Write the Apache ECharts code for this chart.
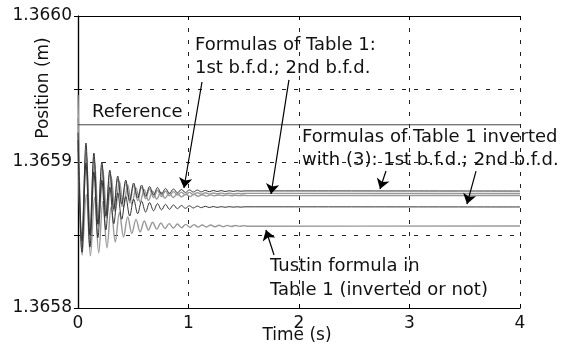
<!DOCTYPE html>
<html>
<head>
<meta charset="utf-8">
<script src="https://cdn.jsdelivr.net/npm/echarts@6/dist/echarts.min.js"></script>
<style>
  html, body { margin: 0; padding: 0; background: #fff; }
  #main { width: 573px; height: 347px; }
</style>
</head>
<body>
<div id="main"></div>
<script>
// time of each read-off extremum (s)
const timesA = [0, 0.036, 0.072, 0.108, 0.144, 0.18, 0.216, 0.252, 0.288, 0.324, 0.36, 0.396, 0.432, 0.468, 0.504, 0.54, 0.576, 0.612, 0.648, 0.684, 0.72, 0.756, 0.792, 0.828, 0.864, 0.9, 0.936, 0.972, 1.008, 1.044, 1.08, 1.116, 1.152, 1.188, 1.224, 1.26, 1.296, 1.332, 1.368, 1.404, 1.44, 1.476, 1.512, 4]
const timesB = [0, 0.0375, 0.075, 0.1125, 0.15, 0.1875, 0.225, 0.2625, 0.3, 0.3375, 0.375, 0.4125, 0.45, 0.4875, 0.525, 0.5625, 0.6, 0.6375, 0.675, 0.7125, 0.75, 0.7875, 0.825, 0.8625, 0.9, 0.9375, 0.975, 1.0125, 1.05, 1.0875, 1.125, 1.1625, 1.2, 1.2375, 1.275, 1.3125, 1.35, 1.3875, 1.425, 1.4625, 1.5, 1.5375, 4]

// positions (m)
const invFirst = [1.3659201, 1.3658459, 1.3659130, 1.3658500, 1.3659061, 1.3658575, 1.3659000, 1.3658630, 1.3658945, 1.3658678, 1.3658904, 1.3658712, 1.3658876, 1.3658736, 1.3658856, 1.3658753, 1.3658842, 1.3658765, 1.3658832, 1.3658774, 1.3658825, 1.3658780, 1.3658819, 1.3658785, 1.3658815, 1.3658789, 1.3658812, 1.3658791, 1.3658809, 1.3658794, 1.3658808, 1.3658795, 1.3658806, 1.3658796, 1.3658805, 1.3658798, 1.3658804, 1.3658798, 1.3658803, 1.3658799, 1.3658803, 1.3658800, 1.3658802, 1.3658801]
const tabFirst = [1.3659459, 1.3658424, 1.3659084, 1.3658494, 1.3659034, 1.3658569, 1.3658974, 1.3658619, 1.3658924, 1.3658664, 1.3658886, 1.3658696, 1.3658859, 1.3658719, 1.3658840, 1.3658736, 1.3658826, 1.3658748, 1.3658815, 1.3658757, 1.3658807, 1.3658764, 1.3658801, 1.3658769, 1.3658797, 1.3658773, 1.3658794, 1.3658775, 1.3658792, 1.3658777, 1.3658790, 1.3658779, 1.3658789, 1.3658780, 1.3658788, 1.3658781, 1.3658787, 1.3658782, 1.3658786, 1.3658782, 1.3658785, 1.3658783, 1.3658785, 1.3658784]
const tabSecond = [1.3659300, 1.3658441, 1.3659061, 1.3658501, 1.3659006, 1.3658566, 1.3658949, 1.3658616, 1.3658903, 1.3658658, 1.3658868, 1.3658688, 1.3658842, 1.3658710, 1.3658823, 1.3658726, 1.3658810, 1.3658737, 1.3658800, 1.3658746, 1.3658793, 1.3658752, 1.3658787, 1.3658757, 1.3658783, 1.3658761, 1.3658780, 1.3658763, 1.3658778, 1.3658765, 1.3658776, 1.3658766, 1.3658775, 1.3658768, 1.3658774, 1.3658769, 1.3658773, 1.3658769, 1.3658772, 1.3658770, 1.3658772, 1.3658770, 1.3658771]
const invSecond = [1.3659150, 1.3658382, 1.3658992, 1.3658417, 1.3658932, 1.3658482, 1.3658874, 1.3658534, 1.3658826, 1.3658577, 1.3658789, 1.3658608, 1.3658764, 1.3658630, 1.3658745, 1.3658646, 1.3658732, 1.3658657, 1.3658722, 1.3658666, 1.3658715, 1.3658672, 1.3658710, 1.3658676, 1.3658706, 1.3658680, 1.3658702, 1.3658683, 1.3658700, 1.3658685, 1.3658698, 1.3658687, 1.3658697, 1.3658688, 1.3658695, 1.3658689, 1.3658694, 1.3658690, 1.3658694, 1.3658691, 1.3658693, 1.3658691, 1.3658693, 1.3658692]
const tustin = [1.3659100, 1.3658362, 1.3658777, 1.3658357, 1.3658757, 1.3658377, 1.3658730, 1.3658412, 1.3658692, 1.3658452, 1.3658654, 1.3658487, 1.3658624, 1.3658512, 1.3658607, 1.3658521, 1.3658596, 1.3658534, 1.3658587, 1.3658540, 1.3658582, 1.3658544, 1.3658578, 1.3658548, 1.3658575, 1.3658550, 1.3658573, 1.3658552, 1.3658571, 1.3658554, 1.3658569, 1.3658555, 1.3658568, 1.3658556, 1.3658567, 1.3658557, 1.3658566, 1.3658558, 1.3658565, 1.3658559, 1.3658564, 1.3658560, 1.3658562]
const refTimes = [0, 4]
const reference = [1.3659255, 1.3659255]

const xTicks = [0, 1, 2, 3, 4]
const yTicks = ['1.3658', '1.3659', '1.3660']

const FONT = '"DejaVu Sans", sans-serif'
const DARK = '#333333'
const GRAY = '#999999'

const myChart = echarts.init(document.getElementById('main'))

function pairs(ts, vs) {
  return ts.map((t, i) => [t, vs[i]])
}

function curve(name, ts, vs, color, width) {
  return {
    name: name,
    type: 'line',
    data: pairs(ts, vs),
    showSymbol: false,
    symbol: 'none',
    smooth: 0.35,
    lineStyle: { color: color, width: width },
    z: 3
  }
}

// arrows: [from, to] in data coords
function arrow(from, to) {
  return { coords: [from, to] }
}

function text(str, x, y, size, align) {
  return {
    type: 'text', x: x, y: y, z: 100,
    style: { text: str, font: (size || 18) + 'px ' + FONT, fill: '#111', align: align || 'left', verticalAlign: 'middle' }
  }
}

const axisCommon = {
  type: 'value',
  axisLine: { show: true, lineStyle: { color: '#000', width: 1.2 } },
  axisTick: { show: true, inside: true, length: 4, lineStyle: { color: '#000' } }
}

const option = {
  animation: false,
  backgroundColor: '#fff',
  grid: { left: 78, right: 53, top: 16, bottom: 39, outerBoundsMode: 'none', containLabel: false },
  xAxis: [
    Object.assign({}, axisCommon, {
      min: xTicks[0], max: xTicks[xTicks.length - 1], interval: 1,
      axisLabel: { margin: 7, fontFamily: FONT, fontSize: 17, color: '#111' },
      splitLine: { show: true, lineStyle: { color: '#222', type: [4, 8], width: 1 } }
    }),
    Object.assign({}, axisCommon, {
      position: 'top', min: 0, max: 4, interval: 1,
      axisLabel: { show: false }, splitLine: { show: false }
    })
  ],
  yAxis: [
    Object.assign({}, axisCommon, {
      min: 1.3658, max: 1.366, interval: 0.00005,
      axisLabel: {
        margin: 6, fontFamily: FONT, fontSize: 17, color: '#111',
        formatter: function (v) {
          const s = v.toFixed(4)
          return Math.round(v * 1e5) % 10 === 0 && yTicks.indexOf(s) >= 0 ? s : ''
        }
      },
      splitLine: { show: true, lineStyle: { color: '#222', type: [4, 8], width: 1 } }
    }),
    Object.assign({}, axisCommon, {
      position: 'right', min: 1.3658, max: 1.366, interval: 0.00005,
      axisLabel: { show: false }, splitLine: { show: false }
    })
  ],
  series: [
    curve('Tustin', timesB, tustin, GRAY, 1.4),
    curve('Table 1, 2nd b.f.d.', timesB, tabSecond, GRAY, 1.4),
    curve('Table 1, 1st b.f.d.', timesA, tabFirst, GRAY, 1.4),
    curve('Inverted, 2nd b.f.d.', timesA, invSecond, DARK, 1),
    curve('Inverted, 1st b.f.d.', timesA, invFirst, DARK, 1),
    {
      name: 'Reference', type: 'line', data: pairs(refTimes, reference),
      symbol: 'none', lineStyle: { color: '#444', width: 1 }, z: 4
    },
    {
      type: 'lines', coordinateSystem: 'cartesian2d', z: 10,
      symbol: ['none', 'arrow'], symbolSize: 10,
      lineStyle: { color: '#000', width: 1.2, opacity: 1 },
      data: [
        arrow([1.122, 1.3659548], [0.959, 1.3658822]),
        arrow([1.909, 1.3659562], [1.747, 1.3658781]),
        arrow([2.787, 1.3658938], [2.733, 1.3658815]),
        arrow([3.602, 1.3658938], [3.520, 1.3658712]),
        arrow([1.774, 1.3658363], [1.701, 1.3658534])
      ]
    }
  ],
  graphic: [
    {
      type: 'text', x: 44, y: 88, rotation: Math.PI / 2, z: 100,
      style: { text: 'Position (m)', font: '17px ' + FONT, fill: '#111', align: 'center', verticalAlign: 'middle' }
    },
    text('Time (s)', 297, 336, 17, 'center'),
    text('Reference', 92, 112),
    text('Formulas of Table 1:', 195, 45),
    text('1st b.f.d.; 2nd b.f.d.', 195, 68),
    text('Formulas of Table 1 inverted', 302, 137),
    text('with (3): 1st b.f.d.; 2nd b.f.d.', 302, 160),
    text('Tustin formula in', 270, 266),
    text('Table 1 (inverted or not)', 270, 290)
  ]
}

myChart.setOption(option)
</script>
</body>
</html>
